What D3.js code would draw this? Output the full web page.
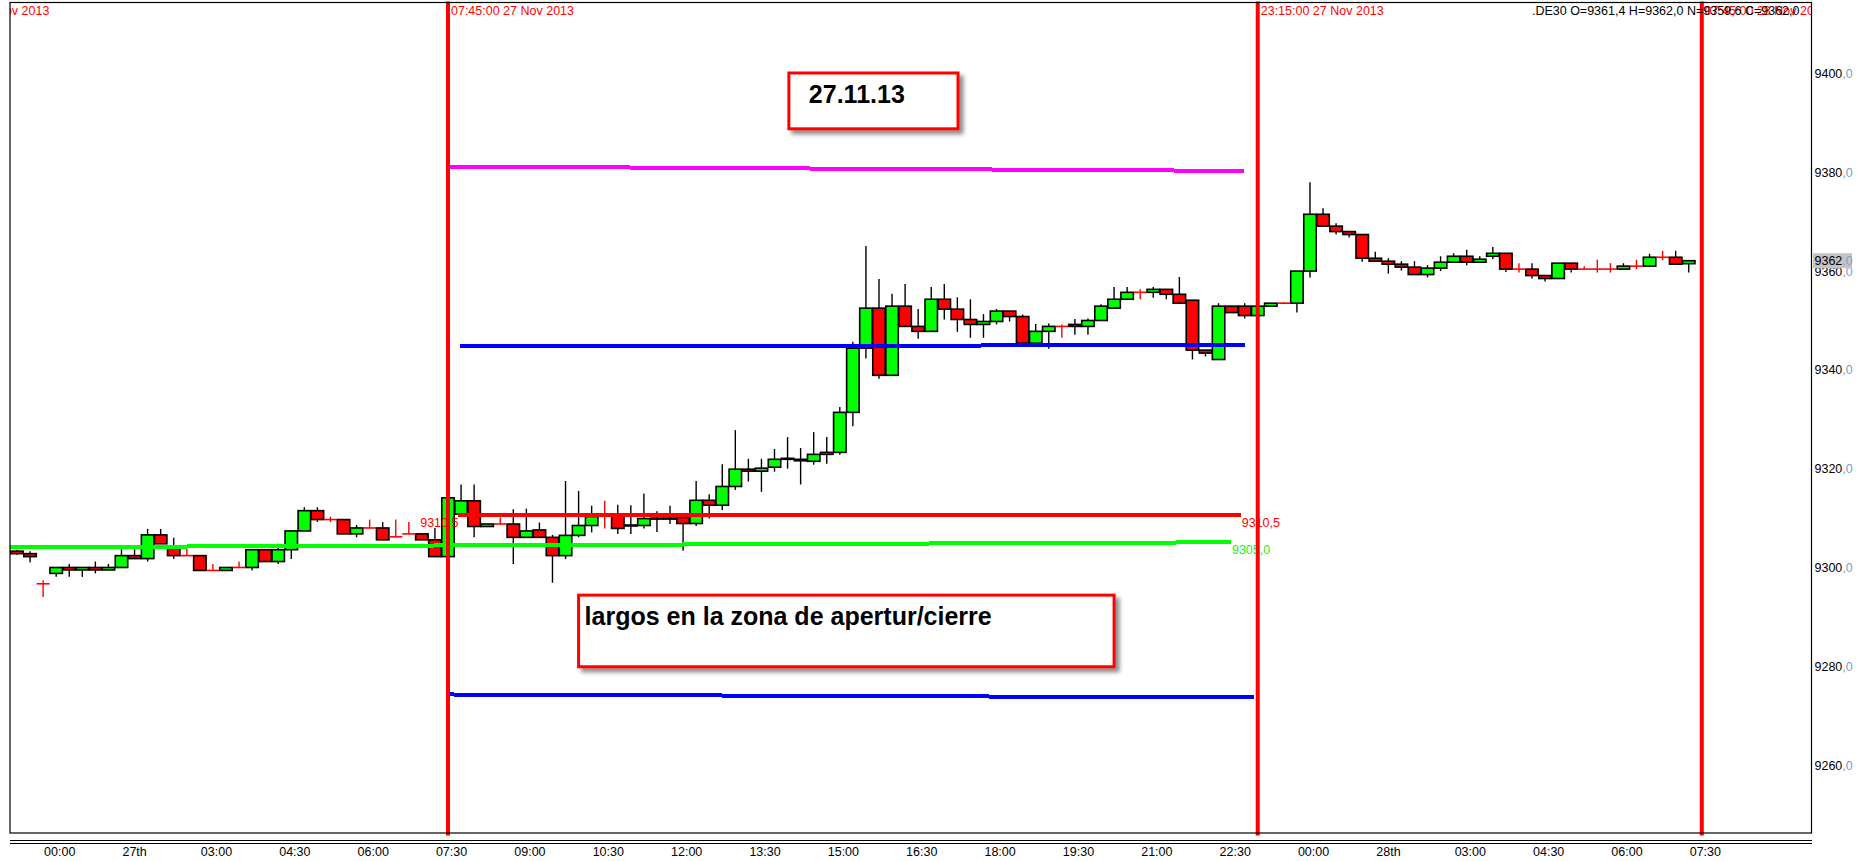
<!DOCTYPE html>
<html>
<head>
<meta charset="utf-8">
<script src="https://cdn.jsdelivr.net/npm/d3@7"></script>
<style>
  html, body { margin: 0; padding: 0; background: #fff; }
  svg { display: block; font-family: "Liberation Sans", Arial, sans-serif; }
</style>
</head>
<body>
<div id="chart"></div>
<script>
// === DE30, 15 minute bars, index 0 = first bar on screen ===
const opens = [
  9303.2, 9302.7, 9296.6, 9298.7, 9299.9, 9299.4, 9299.9, 9299.4, 9299.9, 9302.3,
  9301.7, 9306.5, 9304.2, 9302.3, 9302.3, 9299.3, 9299.3, 9299.9, 9299.9, 9303.5,
  9301.1, 9303.5, 9307.3, 9311.4, 9309.6, 9309.6, 9306.7, 9307.9, 9307.9, 9306.1,
  9306.7, 9306.7, 9305.5, 9302.1, 9310.7, 9313.4, 9308.2, 9308.7, 9308.7, 9306.0,
  9307.5, 9306.0, 9302.3, 9306.4, 9308.4, 9310.4, 9310.4, 9308.3, 9308.4, 9309.8,
  9309.8, 9310.0, 9308.8, 9313.5, 9312.5, 9316.3, 9319.8, 9319.4, 9320.2, 9321.8,
  9321.8, 9321.4, 9322.8, 9323.2, 9331.3, 9344.3, 9352.4, 9338.8, 9352.8, 9348.7,
  9347.7, 9354.2, 9352.2, 9350.1, 9349.1, 9349.7, 9351.8, 9350.7, 9345.3, 9347.7,
  9348.7, 9349.1, 9348.7, 9349.9, 9352.4, 9354.2, 9355.6, 9355.6, 9356.2, 9355.2,
  9354.0, 9343.9, 9342.0, 9352.8, 9352.8, 9350.9, 9352.8, 9353.4, 9353.4, 9359.9,
  9371.4, 9369.0, 9367.9, 9367.3, 9362.5, 9361.9, 9361.3, 9360.7, 9359.2, 9360.5,
  9361.7, 9362.9, 9361.7, 9362.9, 9363.5, 9360.3, 9360.3, 9359.0, 9358.4, 9361.5,
  9360.3, 9360.3, 9360.3, 9360.3, 9360.9, 9360.9, 9362.7, 9362.7, 9361.4
];
const highs = [
  9303.5, 9303.2, 9297.3, 9299.9, 9300.6, 9299.9, 9301.1, 9300.6, 9303.6, 9303.6,
  9307.7, 9307.7, 9305.9, 9303.7, 9302.3, 9300.6, 9299.9, 9301.1, 9303.5, 9303.5,
  9304.7, 9307.3, 9312.1, 9312.1, 9310.2, 9309.6, 9308.5, 9309.6, 9309.1, 9309.6,
  9309.1, 9306.7, 9307.9, 9314.6, 9316.7, 9316.7, 9308.7, 9310.0, 9311.7, 9311.8,
  9309.0, 9306.5, 9317.4, 9315.4, 9312.4, 9313.4, 9312.6, 9312.5, 9314.9, 9311.3,
  9312.4, 9310.9, 9317.4, 9314.7, 9320.8, 9327.7, 9321.9, 9321.9, 9323.9, 9326.3,
  9324.1, 9327.3, 9326.3, 9332.4, 9345.6, 9365.0, 9358.3, 9355.3, 9357.3, 9352.2,
  9356.7, 9357.3, 9354.6, 9354.2, 9351.2, 9352.2, 9351.8, 9351.1, 9349.2, 9349.3,
  9349.1, 9350.2, 9350.3, 9353.2, 9356.7, 9356.7, 9356.2, 9356.7, 9356.2, 9358.7,
  9354.0, 9343.9, 9353.4, 9352.8, 9353.4, 9352.8, 9353.4, 9353.6, 9359.9, 9377.9,
  9372.6, 9369.6, 9367.9, 9367.3, 9363.8, 9362.5, 9361.9, 9361.9, 9361.1, 9362.9,
  9363.5, 9364.2, 9362.9, 9364.8, 9363.5, 9361.5, 9361.5, 9359.0, 9361.5, 9361.5,
  9360.9, 9362.2, 9361.5, 9361.5, 9362.2, 9363.4, 9364.0, 9364.0, 9362.0
];
const lows = [
  9302.5, 9300.9, 9293.9, 9298.0, 9298.0, 9298.0, 9298.7, 9299.4, 9299.9, 9301.7,
  9301.1, 9304.7, 9301.6, 9302.3, 9299.3, 9299.3, 9299.3, 9299.9, 9299.3, 9301.1,
  9300.6, 9301.6, 9307.3, 9309.1, 9309.1, 9306.7, 9306.0, 9307.9, 9305.5, 9306.1,
  9306.7, 9305.5, 9302.1, 9302.1, 9310.7, 9306.0, 9308.2, 9308.7, 9300.6, 9306.0,
  9306.0, 9296.8, 9301.6, 9306.0, 9307.0, 9307.8, 9306.7, 9306.7, 9307.8, 9307.1,
  9308.7, 9303.3, 9308.3, 9309.8, 9311.5, 9315.6, 9317.3, 9315.2, 9319.3, 9319.9,
  9316.7, 9320.7, 9320.9, 9322.7, 9328.5, 9342.2, 9338.1, 9338.8, 9348.7, 9346.2,
  9347.7, 9350.1, 9347.6, 9346.4, 9346.4, 9349.1, 9349.7, 9345.3, 9345.3, 9344.2,
  9346.4, 9347.0, 9347.0, 9349.9, 9352.2, 9354.2, 9354.2, 9354.5, 9354.2, 9353.4,
  9342.0, 9342.6, 9342.0, 9351.5, 9350.3, 9350.9, 9352.8, 9353.4, 9351.5, 9358.6,
  9369.0, 9367.3, 9366.7, 9361.8, 9361.9, 9359.4, 9360.0, 9359.2, 9358.6, 9359.9,
  9361.7, 9361.1, 9361.7, 9362.3, 9359.7, 9359.6, 9358.4, 9357.8, 9358.4, 9359.6,
  9360.3, 9359.6, 9359.6, 9360.3, 9360.3, 9360.9, 9362.1, 9361.3, 9359.6
];
const closes = [
  9302.7, 9302.1, 9296.6, 9299.9, 9299.4, 9299.9, 9299.4, 9299.9, 9302.3, 9301.7,
  9306.5, 9304.7, 9302.3, 9302.3, 9299.3, 9299.3, 9299.9, 9299.9, 9303.5, 9301.1,
  9303.5, 9307.3, 9311.4, 9309.6, 9309.6, 9306.7, 9307.9, 9307.9, 9305.5, 9306.1,
  9306.7, 9305.5, 9302.1, 9314.0, 9313.4, 9308.2, 9308.7, 9308.7, 9306.0, 9307.3,
  9306.0, 9302.3, 9306.4, 9308.4, 9310.2, 9310.4, 9307.8, 9308.5, 9309.8, 9309.9,
  9309.9, 9308.8, 9313.5, 9312.5, 9316.3, 9319.8, 9319.4, 9320.0, 9321.8, 9322.0,
  9321.5, 9322.8, 9323.2, 9331.3, 9344.3, 9352.4, 9338.8, 9352.8, 9348.7, 9347.7,
  9354.2, 9352.2, 9350.1, 9349.1, 9349.7, 9351.8, 9350.7, 9345.3, 9347.7, 9348.7,
  9348.7, 9348.7, 9349.9, 9352.8, 9354.2, 9355.6, 9355.6, 9356.2, 9355.2, 9353.4,
  9343.9, 9343.3, 9352.8, 9351.5, 9350.9, 9352.8, 9353.4, 9353.4, 9359.9, 9371.4,
  9369.0, 9367.9, 9367.3, 9362.5, 9361.9, 9361.3, 9360.7, 9359.2, 9360.5, 9361.7,
  9362.9, 9361.7, 9362.3, 9363.5, 9360.3, 9360.3, 9359.0, 9358.4, 9361.5, 9360.3,
  9360.3, 9360.3, 9360.3, 9360.9, 9360.9, 9362.7, 9362.7, 9361.3, 9362.0
];

// time axis: bar index of each label and its text
const xTickIdx = [2, 8, 14, 20, 26, 32, 38, 44, 50, 56, 62, 68, 74, 80, 86, 92, 98, 104, 110, 116, 122, 128];
const xTickLabels = ["00:00", "27th", "03:00", "04:30", "06:00", "07:30", "09:00", "10:30", "12:00", "13:30", "15:00",
  "16:30", "18:00", "19:30", "21:00", "22:30", "00:00", "28th", "03:00", "04:30", "06:00", "07:30"];

// price axis
const yTicks = [9260, 9280, 9300, 9320, 9340, 9360, 9380, 9400];
const lastPrice = 9362.0;
const header = ".DE30 O=9361,4 H=9362,0 N=9359,6 C=9362,0";

// vertical time markers (bar index) and their labels
const vLineIdx = [-7.17, 33, 95, 129];
const vLineLabels = ["23:15:00 26 Nov 2013", "07:45:00 27 Nov 2013", "23:15:00 27 Nov 2013", "07:45:00 28 Nov 2013"];

// hand drawn levels: green, red, magenta, blue high, blue low
const levelStartIdx = [-0.6, 33.8, 33.1, 33.9, 33.1];
const levelEndIdx = [92.95, 93.7, 93.95, 94.0, 94.7];
const levelStartVal = [9304.0, 9310.5, 9381.07, 9344.7, 9274.19];
const levelEndVal = [9305.0, 9310.5, 9380.18, 9344.9, 9273.58];
const levelLeftLabel = [null, "9310,5", null, null, null];
const levelRightLabel = ["9305,0", "9310,5", null, null, null];

// note boxes: [left idx, right idx, top price, bottom price]
const noteTexts = ["27.11.13", "largos en la zona de apertur/cierre"];
const noteLeftIdx = [59.1, 43.0];
const noteRightIdx = [72.05, 84.0];
const noteTopVal = [9400.0, 9294.3];
const noteBottomVal = [9388.7, 9279.8];

// === layout ===
const W = 1857, H = 861;
const plot = { left: 10, top: 2.5, right: 1811.5, bottom: 833 };
const UP = "#00ff00", DOWN = "#ff0000";
const LEVEL_COLORS = ["#00ff00", "#ff0000", "#ff00ff", "#0000ff", "#0000ff"];
const LEVEL_WIDTHS = [4, 4, 4, 4, 4];
const LEVEL_LABEL_COLORS = ["#22ee22", "#ff0000", "#ff00ff", "#0000ff", "#0000ff"];
const FONT = 12.5;

const svg = d3.select("#chart").append("svg")
  .attr("width", W).attr("height", H);

const defs = svg.append("defs");
defs.append("clipPath").attr("id", "plotClip")
  .append("rect")
  .attr("x", plot.left).attr("y", 0)
  .attr("width", plot.right - plot.left).attr("height", 836);
defs.append("filter").attr("id", "shadow")
  .attr("x", "-10%").attr("y", "-10%").attr("width", "130%").attr("height", "140%")
  .append("feDropShadow")
  .attr("dx", 4).attr("dy", 4).attr("stdDeviation", 2.2)
  .attr("flood-color", "#000").attr("flood-opacity", 0.45);

// bar index -> pixel, price -> pixel
const x = d3.scaleLinear().domain([-0.536, 137.4]).range([plot.left, plot.right]);
const y = d3.scaleLinear().domain([9246.15, 9414.27]).range([plot.bottom, plot.top]);
const step = x(1) - x(0);
const bw = step - 0.6;

svg.append("rect").attr("width", W).attr("height", H).attr("fill", "#fff");

const g = svg.append("g").attr("clip-path", "url(#plotClip)");

const bars = opens.map((o, i) => ({ i, o, h: highs[i], l: lows[i], c: closes[i] }));
const solid = bars.filter(d => d.o !== d.c);
const dojis = bars.filter(d => d.o === d.c);

// wicks
g.selectAll(".wick").data(solid).join("line")
  .attr("x1", d => x(d.i)).attr("x2", d => x(d.i))
  .attr("y1", d => y(d.h)).attr("y2", d => y(d.l))
  .attr("stroke", "#000").attr("stroke-width", 1.4);

// bodies
g.selectAll(".body").data(solid).join("rect")
  .attr("x", d => x(d.i) - bw / 2)
  .attr("y", d => y(Math.max(d.o, d.c)))
  .attr("width", bw)
  .attr("height", d => Math.max(1, Math.abs(y(d.o) - y(d.c))))
  .attr("fill", d => d.c > d.o ? UP : DOWN)
  .attr("stroke", "#000").attr("stroke-width", 1.6);

// doji crosses
g.selectAll(".dojiV").data(dojis).join("line")
  .attr("x1", d => x(d.i)).attr("x2", d => x(d.i))
  .attr("y1", d => y(d.h)).attr("y2", d => y(d.l))
  .attr("stroke", DOWN).attr("stroke-width", 1.4);
g.selectAll(".dojiH").data(dojis).join("line")
  .attr("x1", d => x(d.i) - step / 2).attr("x2", d => x(d.i) + step / 2)
  .attr("y1", d => y(d.o)).attr("y2", d => y(d.o))
  .attr("stroke", DOWN).attr("stroke-width", 1.6);

// drawn levels
levelStartIdx.forEach((s, k) => {
  g.append("line")
    .attr("x1", x(s)).attr("x2", x(levelEndIdx[k]))
    .attr("y1", y(levelStartVal[k])).attr("y2", y(levelEndVal[k]))
    .attr("stroke", LEVEL_COLORS[k]).attr("stroke-width", LEVEL_WIDTHS[k])
    .attr("shape-rendering", "crispEdges");
  if (levelLeftLabel[k]) {
    g.append("text")
      .attr("x", x(s)).attr("y", y(levelStartVal[k]) + 11.5)
      .attr("text-anchor", "end")
      .attr("font-size", FONT).attr("fill", LEVEL_LABEL_COLORS[k])
      .text(levelLeftLabel[k]);
  }
  if (levelRightLabel[k]) {
    g.append("text")
      .attr("x", x(levelEndIdx[k]) + 1).attr("y", y(levelEndVal[k]) + 11.5)
      .attr("font-size", FONT).attr("fill", LEVEL_LABEL_COLORS[k])
      .text(levelRightLabel[k]);
  }
});

// frame
svg.append("rect")
  .attr("x", plot.left).attr("y", plot.top)
  .attr("width", plot.right - plot.left).attr("height", plot.bottom - plot.top)
  .attr("fill", "none").attr("stroke", "#000").attr("stroke-width", 1.2);

// vertical markers
vLineIdx.forEach((v, k) => {
  g.append("line")
    .attr("x1", x(v)).attr("x2", x(v))
    .attr("y1", 1.5).attr("y2", 835.5)
    .attr("stroke", "#ff0000").attr("stroke-width", 4);
  g.append("text")
    .attr("x", x(v) + 3).attr("y", 15)
    .attr("font-size", FONT).attr("fill", "#ff0000")
    .text(vLineLabels[k]);
});

// header quote
svg.append("text")
  .attr("x", plot.right - 12).attr("y", 15)
  .attr("text-anchor", "end")
  .attr("font-size", FONT).attr("fill", "#000")
  .text(header);

// note boxes
noteTexts.forEach((t, k) => {
  const bx = x(noteLeftIdx[k]), by = y(noteTopVal[k]);
  const bwid = x(noteRightIdx[k]) - bx, bht = y(noteBottomVal[k]) - by;
  svg.append("rect")
    .attr("x", bx).attr("y", by).attr("width", bwid).attr("height", bht)
    .attr("fill", "#fff").attr("stroke", "#ff0000").attr("stroke-width", 3)
    .attr("filter", "url(#shadow)");
  svg.append("text")
    .attr("x", bx + (k === 0 ? 20 : 6)).attr("y", by + 30)
    .attr("font-size", 25).attr("font-weight", "bold").attr("fill", "#000")
    .text(t);
});

// price axis
const yAxis = svg.append("g")
  .attr("transform", `translate(${plot.right + 3},0)`)
  .call(d3.axisRight(y).tickValues(yTicks).tickSize(0).tickPadding(0))
  .call(a => a.select(".domain").remove());
yAxis.selectAll("text")
  .attr("font-size", FONT).attr("font-family", "Liberation Sans, Arial, sans-serif")
  .attr("dy", "0.36em")
  .text(null)
  .call(t => t.append("tspan").attr("fill", "#000").text(d => d))
  .call(t => t.append("tspan").attr("fill", "#7d9cc8").text(",0"));

// last price tag
const lp = svg.append("g").attr("transform", `translate(${plot.right + 1.5},${y(lastPrice)})`);
lp.append("rect").attr("x", 0).attr("y", -7.5).attr("width", 39).attr("height", 15).attr("fill", "#c4c4c4");
lp.append("text").attr("x", 1.5).attr("y", 4.5).attr("font-size", FONT)
  .call(t => t.append("tspan").attr("fill", "#000").text(Math.floor(lastPrice)))
  .call(t => t.append("tspan").attr("fill", "#8aa0c0").text(",0"));

// time axis
[840.5, 843.5].forEach(yy => {
  svg.append("line")
    .attr("x1", plot.left).attr("x2", plot.right + 0.5)
    .attr("y1", yy).attr("y2", yy)
    .attr("stroke", "#000").attr("stroke-width", 1);
});
svg.append("g").selectAll("text").data(xTickIdx).join("text")
  .attr("x", d => x(d) + 1).attr("y", 856)
  .attr("font-size", FONT).attr("fill", "#000")
  .text((d, k) => xTickLabels[k]);
</script>
</body>
</html>
